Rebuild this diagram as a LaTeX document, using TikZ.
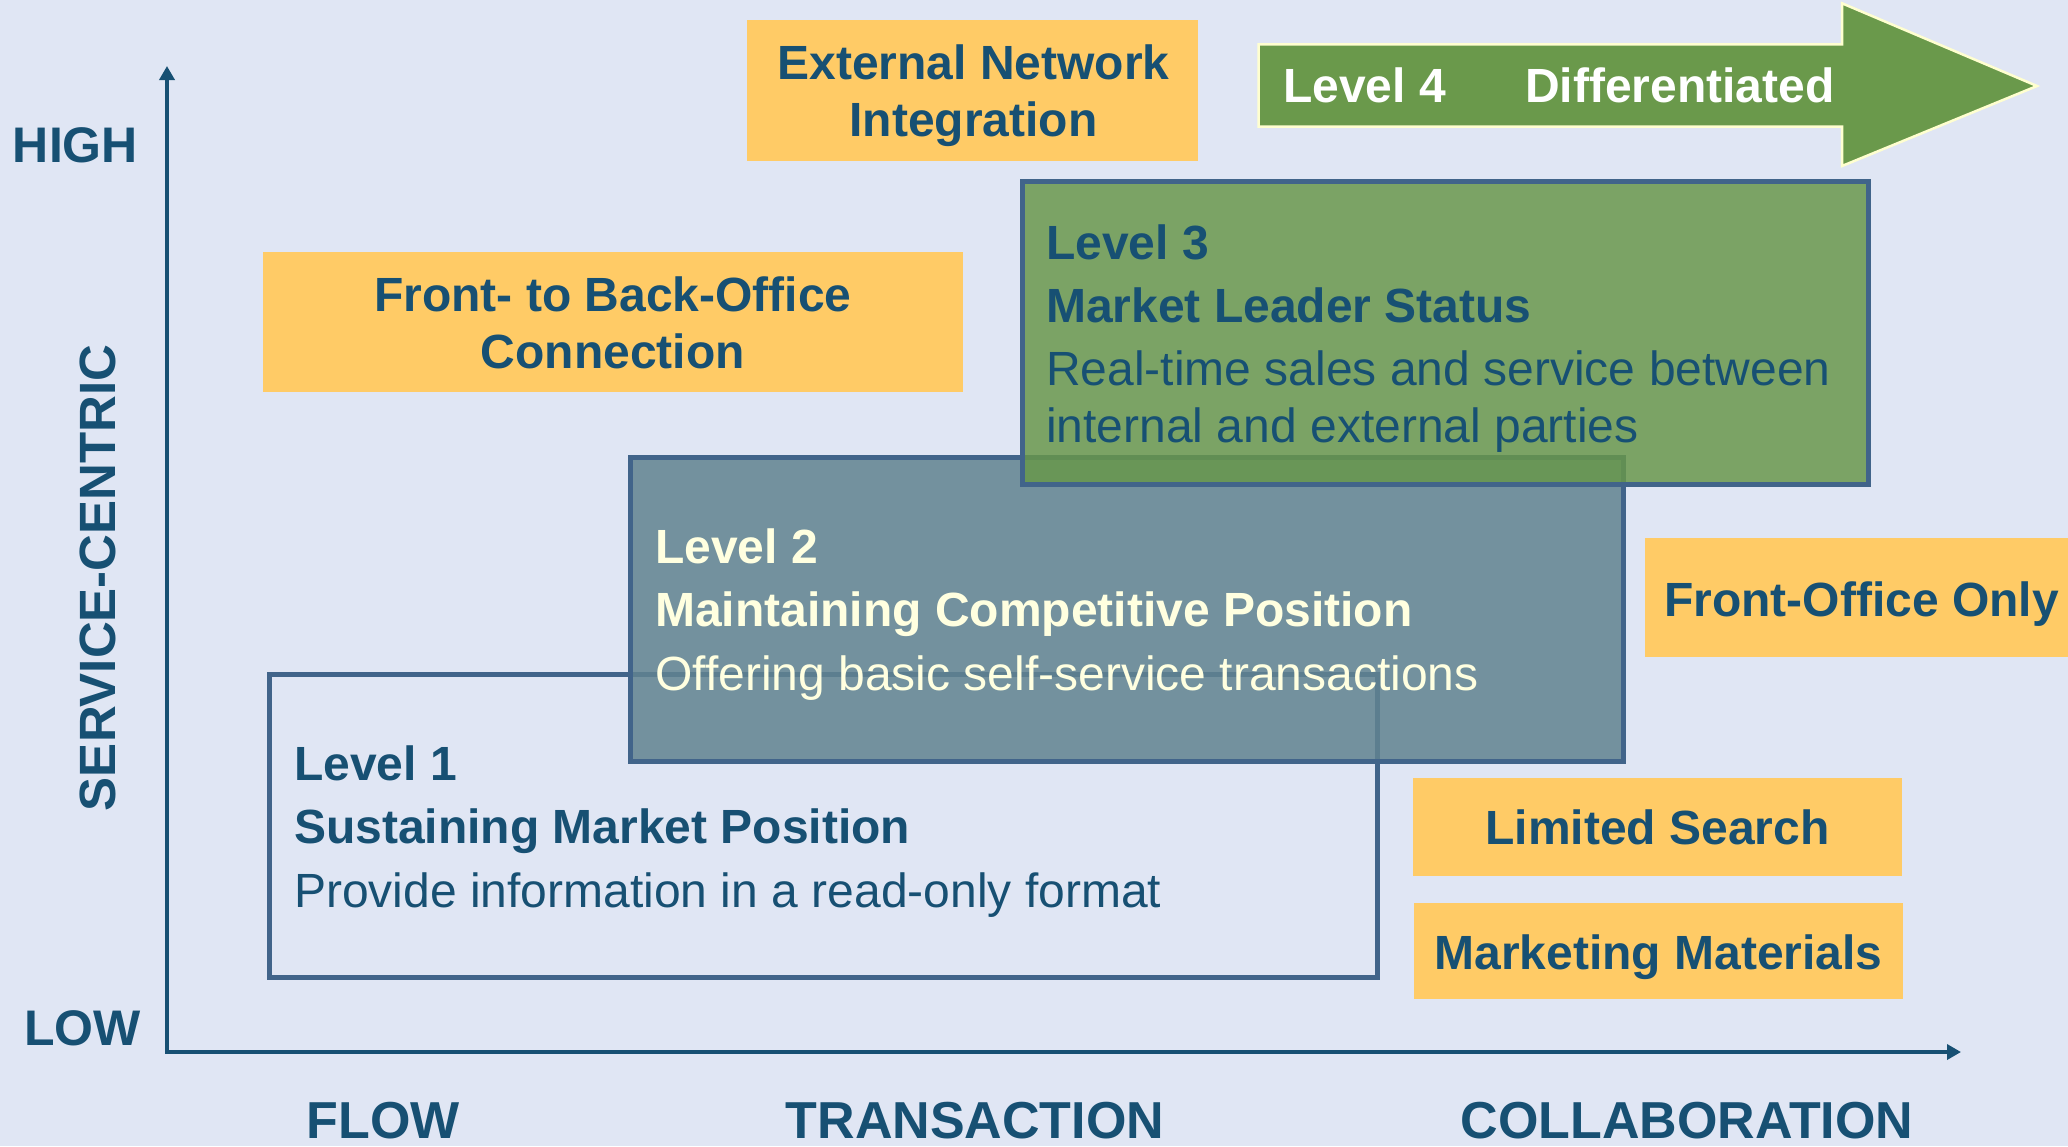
\documentclass[tikz,border=0pt]{standalone}
\usepackage{fontspec}
\setmainfont{Liberation Sans}
\usetikzlibrary{arrows.meta}
\definecolor{bg}{HTML}{E0E6F4}
\definecolor{navy}{HTML}{175073}
\definecolor{frame}{HTML}{41648A}
\definecolor{gold}{HTML}{FFCB66}
\definecolor{lgreen}{HTML}{68974A}
\definecolor{agreen}{HTML}{6A994B}
\definecolor{slate}{HTML}{618390}
\definecolor{cream}{HTML}{FFFFE0}
\definecolor{pale}{HTML}{FFFFD0}
\tikzset{
  txt/.style={anchor=base west, inner sep=0pt, font=\fontsize{48}{57.6}\selectfont},
  btxt/.style={anchor=base west, inner sep=0pt, font=\fontsize{48}{57.6}\selectfont\bfseries},
  ctxt/.style={anchor=base, inner sep=0pt, text=navy, font=\fontsize{48}{57.6}\selectfont\bfseries},
  axlabel/.style={inner sep=0pt, text=navy, font=\fontsize{50}{60}\selectfont\bfseries},
  goldbox/.style={fill=gold, draw=none, inner sep=0pt},
  lvlbox/.style={draw=frame, line width=5pt, inner sep=0pt},
  axisline/.style={draw=navy, line width=4pt, line join=miter,
    {Triangle[width=15pt,length=14pt]}-{Triangle[width=15pt,length=14pt]}},
}
\begin{document}
\begin{tikzpicture}[x=1pt,y=-1pt]
\useasboundingbox[fill=bg] (0,0) rectangle (2068,1146);

% axes
\coordinate (ytip) at (167,66);
\coordinate (origin) at (167,1052);
\coordinate (xtip) at (1961,1052);
\draw[axisline] (ytip) -- (origin) -- (xtip);
\node[axlabel, anchor=base west] (high) at (12.7,162) {HIGH};
\node[axlabel, anchor=base west] (low) at (24,1045) {LOW};
\node[axlabel, rotate=90, font=\fontsize{51}{60}\selectfont\bfseries] (svc) at (97.8,577.7) {SERVICE-CENTRIC};
\node[axlabel, anchor=base, font=\fontsize{52}{60}\selectfont\bfseries] (flow) at (383,1138) {FLOW};
\node[axlabel, anchor=base, font=\fontsize{52}{60}\selectfont\bfseries] (trans) at (975,1138) {TRANSACTION};
\node[axlabel, anchor=base, font=\fontsize{52}{60}\selectfont\bfseries] (collab) at (1687,1138) {COLLABORATION};

% gold boxes
\node[goldbox, minimum width=450.5, minimum height=140.7] (ext) at (972.3,90.4) {};
\node[ctxt] (ext1) at (973.6,79.3) {External Network};
\node[ctxt] (ext2) at (973.6,136.7) {Integration};

\node[goldbox, minimum width=700.5, minimum height=140] (fb) at (612.8,322) {};
\node[ctxt] (fb1) at (612.8,311.3) {Front- to Back-Office};
\node[ctxt] (fb2) at (612.8,368.7) {Connection};

\node[goldbox, minimum width=433, minimum height=119.3] (fo) at (1861.5,597.4) {};
\node[ctxt] (fo1) at (1861.5,616.7) {Front-Office Only};

\node[goldbox, minimum width=489, minimum height=98.2] (ls) at (1657.5,826.6) {};
\node[ctxt] (ls1) at (1657.5,844) {Limited Search};

\node[goldbox, minimum width=489, minimum height=96] (mm) at (1658.5,950.5) {};
\node[ctxt] (mm1) at (1658.5,969) {Marketing Materials};

% Level 4 arrow
\draw[fill=agreen, draw=pale, line width=2.5pt]
  (1258.5,44.3) -- (1842,44.3) -- (1842,3.3) -- (2037,86) -- (1842,166)
  -- (1842,126.7) -- (1258.5,126.7) -- cycle;
\node[btxt, text=white] (l4a) at (1283,102.7) {Level 4};
\node[btxt, text=white] (l4b) at (1525,102.7) {Differentiated};

% Level 1
\node[lvlbox, minimum width=1108, minimum height=303] (l1) at (823.5,826) {};
\node[btxt, text=navy] (l1a) at (294,780) {Level 1};
\node[btxt, text=navy] (l1b) at (294,843.6) {Sustaining Market Position};
\node[txt, text=navy] (l1c) at (294,907) {Provide information in a read-only format};

% Level 2
\node[lvlbox, fill=slate, fill opacity=0.85, minimum width=993, minimum height=304] (l2) at (1127,609.5) {};
\node[btxt, text=cream] (l2a) at (655,563) {Level 2};
\node[btxt, text=cream] (l2b) at (655,626) {Maintaining Competitive Position};
\node[txt, text=cream] (l2c) at (655,690) {Offering basic self-service transactions};

% Level 3
\node[lvlbox, fill=lgreen, fill opacity=0.84, minimum width=846, minimum height=303] (l3) at (1445.5,333) {};
\node[btxt, text=navy] (l3a) at (1046,259) {Level 3};
\node[btxt, text=navy] (l3b) at (1046,322) {Market Leader Status};
\node[txt, text=navy] (l3c) at (1046,385) {Real-time sales and service between};
\node[txt, text=navy] (l3d) at (1046,442) {internal and external parties};
\end{tikzpicture}
\end{document}
